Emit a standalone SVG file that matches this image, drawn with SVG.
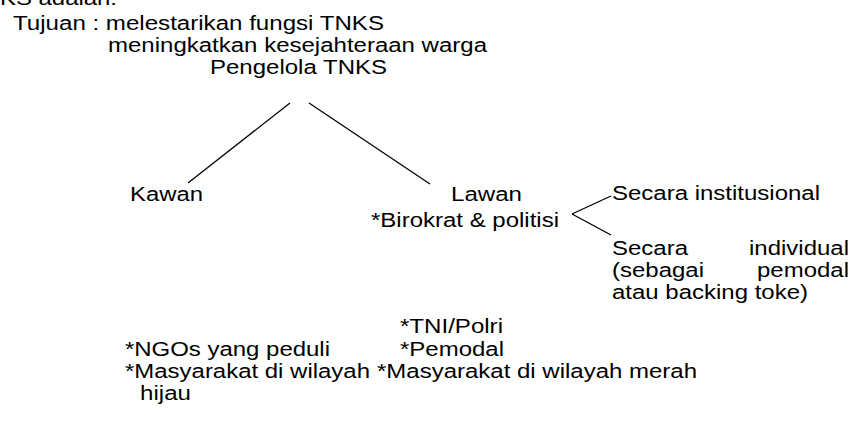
<svg xmlns="http://www.w3.org/2000/svg" width="855" height="428" viewBox="0 0 855 428">
<style>
text{font-family:"Liberation Sans",Arial,sans-serif;font-size:19.5px;fill:#000;}
line{stroke:#000;stroke-width:1.3;}
</style>
<rect width="855" height="428" fill="#fff"/>
<g id="intro">
<text x="0" y="5" textLength="117" lengthAdjust="spacingAndGlyphs">KS adalah:</text>
<text x="13" y="29.5" textLength="371" lengthAdjust="spacingAndGlyphs">Tujuan : melestarikan fungsi TNKS</text>
<text x="108" y="51.5" textLength="379" lengthAdjust="spacingAndGlyphs">meningkatkan kesejahteraan warga</text>
</g>
<g id="pengelola"><text x="210" y="73.5" textLength="177" lengthAdjust="spacingAndGlyphs">Pengelola TNKS</text></g>
<g id="kawan">
<text x="130" y="200.5" textLength="73" lengthAdjust="spacingAndGlyphs">Kawan</text>
<text x="125" y="356" textLength="205" lengthAdjust="spacingAndGlyphs">*NGOs yang peduli</text>
<text x="125" y="378" textLength="245" lengthAdjust="spacingAndGlyphs">*Masyarakat di wilayah</text>
<text x="140" y="400" textLength="51" lengthAdjust="spacingAndGlyphs">hijau</text>
</g>
<g id="lawan">
<text x="451" y="200.5" textLength="71" lengthAdjust="spacingAndGlyphs">Lawan</text>
<text x="371" y="227" textLength="188" lengthAdjust="spacingAndGlyphs">*Birokrat &amp; politisi</text>
<text x="400" y="333" textLength="103" lengthAdjust="spacingAndGlyphs">*TNI/Polri</text>
<text x="400" y="356" textLength="104" lengthAdjust="spacingAndGlyphs">*Pemodal</text>
<text x="377" y="378" textLength="320" lengthAdjust="spacingAndGlyphs">*Masyarakat di wilayah merah</text>
</g>
<g id="institusional"><text x="612" y="200" textLength="208" lengthAdjust="spacingAndGlyphs">Secara institusional</text></g>
<g id="individual">
<text x="612" y="254.5" textLength="76" lengthAdjust="spacingAndGlyphs">Secara</text>
<text x="749" y="254.5" textLength="100" lengthAdjust="spacingAndGlyphs">individual</text>
<text x="612" y="276.5" textLength="92" lengthAdjust="spacingAndGlyphs">(sebagai</text>
<text x="757" y="276.5" textLength="92" lengthAdjust="spacingAndGlyphs">pemodal</text>
<text x="612" y="298.5" textLength="196" lengthAdjust="spacingAndGlyphs">atau backing toke)</text>
</g>
<g id="connectors">
<line x1="290" y1="103" x2="188" y2="183"/>
<line x1="309" y1="103" x2="430" y2="184"/>
<line x1="611" y1="196" x2="572" y2="214"/>
<line x1="572" y1="214" x2="611" y2="235"/>
</g>
</svg>
